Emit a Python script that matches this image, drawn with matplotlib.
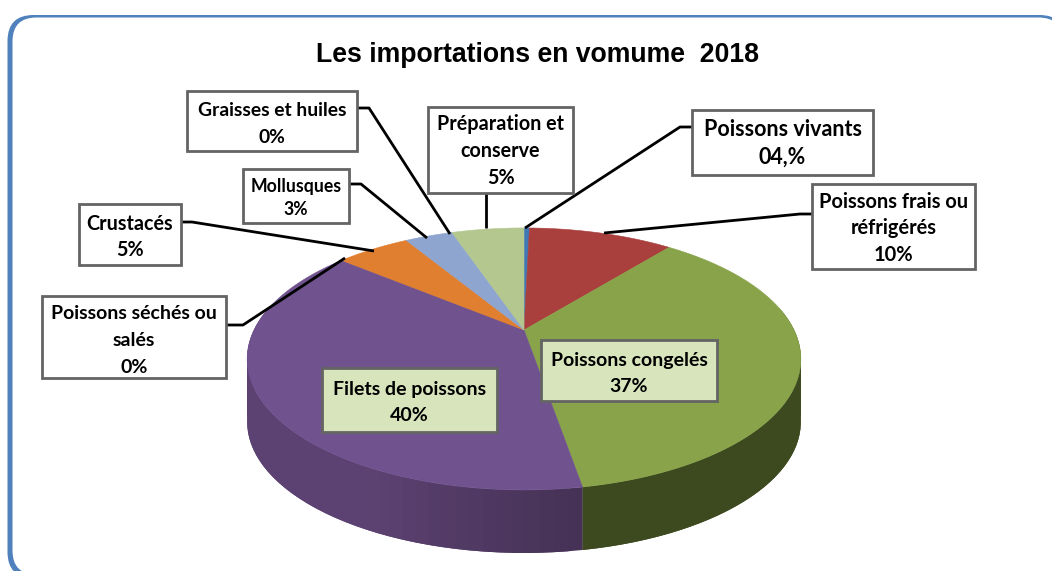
import numpy as np
import matplotlib
matplotlib.use("Agg")
import matplotlib.pyplot as plt
from matplotlib.colors import to_rgb
from matplotlib.patches import FancyBboxPatch, Polygon, Rectangle

# Shares, clockwise from the top
categories = ["Poissons vivants", "Poissons frais ou\nréfrigérés", "Poissons congelés",
              "Filets de poissons", "Poissons séchés ou\nsalés", "Crustacés", "Mollusques",
              "Graisses et huiles", "Préparation et\nconserve"]
values = [0.4, 10.6, 37, 39.2, 0.1, 5.4, 3.4, 0.1, 5.3]
pct_labels = ["04,%", "10%", "37%", "40%", "0%", "5%", "3%", "0%", "5%"]

top_colors = ["#3f78b5", "#a9403d", "#88a34a", "#70528f", "#70528f", "#e07f2f", "#8ea5d0", "#8ea5d0", "#b4c78e"]
side_colors = ["#2a5078", "#6e2a28", "#3d4a1f", "#5c4272", "#5c4272", "#8a4e1c", "#5a6a88", "#5a6a88", "#6e7a56"]

# label boxes: x0, y0, x1, y1, font size, first baseline, line pitch, fill
boxes = [(692, 110, 873, 175, 15.5, 136, 28, "white"),
         (812, 184, 975, 269, 14.4, 208, 26.5, "white"),
         (541, 340, 717, 401, 14.0, 366, 26.5, "#d8e4bc"),
         (322, 368, 497, 432, 14.0, 395, 26, "#d8e4bc"),
         (42, 296, 226, 378, 14.0, 319, 27, "white"),
         (79, 204, 181, 265, 14.2, 230, 26.5, "white"),
         (243, 169, 349, 223, 12.7, 192, 23, "white"),
         (187, 91, 357, 151, 13.9, 116, 27, "white"),
         (428, 107, 573, 193, 14.2, 130, 27, "white")]

# leader lines in picture pixels, same order, None = no leader
leaders = [[(692, 127), (680, 127), (525, 228)],
           [(812, 214), (800, 214), (604, 233)],
           None,
           None,
           [(226, 325), (243, 325), (345, 258)],
           [(181, 222), (192, 222), (374, 251)],
           [(349, 184), (361, 184), (427, 238)],
           [(357, 108), (369, 108), (450, 234)],
           [(486, 193), (486, 228)]]

# perspective of the tilted pie
cx, cy = 524, 330
bx, by, k = 270, 124.6, 0.221
depth = 63


def rim(frac):
    t = np.pi / 2 - 2 * np.pi * np.asarray(frac)
    d = 1 + k * np.sin(t)
    return cx + bx * np.cos(t) / d, cy - by * np.sin(t) / d


fig = plt.figure(figsize=(10.52, 5.71), dpi=100)
ax = fig.add_axes([0, 0, 1, 1])
ax.set_xlim(0, 1052)
ax.set_ylim(571, 0)
ax.axis("off")

# frame runs off the right and bottom, thicker on the left than on top
ax.add_patch(FancyBboxPatch((7.5, 15), 1058, 563, boxstyle="round,pad=0,rounding_size=26",
                            fc="#4f81bd", ec="none", zorder=1))
ax.add_patch(FancyBboxPatch((12.5, 17.5), 1050, 557, boxstyle="round,pad=0,rounding_size=24",
                            fc="white", ec="none", zorder=1))

shares = np.array(values) / sum(values)
edges = np.concatenate([[0], np.cumsum(shares)])

# side wall first, only the part of the rim that faces the viewer
for i in range(len(values)):
    f = np.linspace(edges[i], edges[i + 1], 60)
    f = f[(f > 0.215) & (f < 0.79)]
    if len(f) < 2:
        continue
    base = np.array(to_rgb(side_colors[i]))
    # strips overlap so no seams show, the purple wall gets darker towards the front
    for j in range(len(f) - 1):
        shade = 1.0
        if top_colors[i] == "#70528f":
            shade = min(1.0, 0.75 + 0.25 * (f[j] - edges[i]) / 0.1)
        x, y = rim(f[j:j + 3])
        pts = np.column_stack([np.r_[x, x[::-1]], np.r_[y, (y + depth)[::-1]]])
        ax.add_patch(Polygon(pts, fc=base * shade, ec="none", zorder=2))

# top face
for i in range(len(values)):
    f = np.linspace(edges[i], edges[i + 1], 120)
    x, y = rim(f)
    pts = np.column_stack([np.r_[cx, x], np.r_[cy, y]])
    ax.add_patch(Polygon(pts, fc=top_colors[i], ec=top_colors[i], lw=0.4, zorder=3))

for line in leaders:
    if line is not None:
        xs, ys = zip(*line)
        ax.plot(xs, ys, color="black", lw=2.0, zorder=4, solid_capstyle="butt")

for name, pct, (x0, y0, x1, y1, size, base_y, pitch, fill) in zip(categories, pct_labels, boxes):
    ax.add_patch(Rectangle((x0, y0), x1 - x0, y1 - y0, fc=fill, ec="#646464", lw=2.0, zorder=5))
    for n, part in enumerate((name + "\n" + pct).split("\n")):
        ax.text((x0 + x1) / 2, base_y + n * pitch, part, ha="center", va="baseline",
                family="Lato", weight="bold", fontsize=size, color="black", zorder=6)

ax.text(538, 55, "Les importations en vomume  2018", ha="center", va="center",
        family="Liberation Sans", weight="bold", fontsize=19.2, color="black", zorder=6)

fig.savefig("out.png", dpi=100)
